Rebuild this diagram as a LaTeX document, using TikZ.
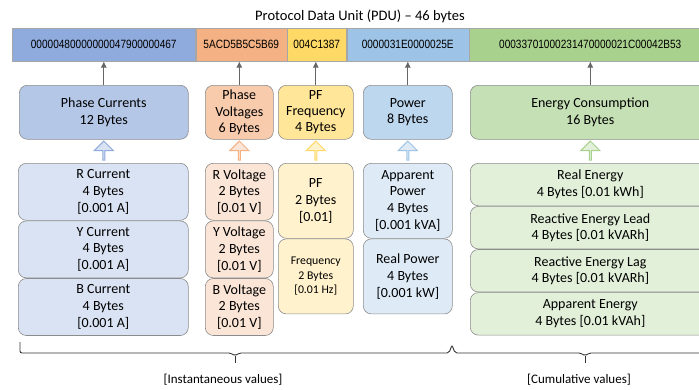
\documentclass[tikz,border=0pt]{standalone}
\usepackage{fontspec}
\setmainfont{Carlito}
\newfontfamily\narrowfont[FakeStretch=0.84]{Liberation Sans}
\usetikzlibrary{positioning,shapes.arrows,arrows.meta}
\definecolor{pcbar}{HTML}{8FAADC}
\definecolor{pchead}{HTML}{B4C7E7}
\definecolor{pcitem}{HTML}{DAE3F3}
\definecolor{pvbar}{HTML}{F4B183}
\definecolor{pvhead}{HTML}{F8CBAD}
\definecolor{pvitem}{HTML}{FBE5D6}
\definecolor{pfbar}{HTML}{FFD966}
\definecolor{pfhead}{HTML}{FFE699}
\definecolor{pfitem}{HTML}{FFF2CC}
\definecolor{pwbar}{HTML}{9DC3E6}
\definecolor{pwhead}{HTML}{BDD7EE}
\definecolor{pwitem}{HTML}{DEEBF7}
\definecolor{enbar}{HTML}{A9D18E}
\definecolor{enhead}{HTML}{C5E0B4}
\definecolor{enitem}{HTML}{E2F0D9}

\begin{document}
\begin{tikzpicture}[x=1pt,y=-1pt,>={Latex[length=6pt,width=6pt]},
    bar/.style={rectangle,draw=black!35,line width=0.5pt,inner sep=0pt,minimum height=33pt,
      font=\narrowfont\fontsize{12}{14}\selectfont},
    head box/.style={rectangle,rounded corners=8pt,draw=black!45,line width=0.6pt,inner sep=0pt,
      minimum height=54pt,align=center,font=\fontsize{14}{16.3}\selectfont},
    item box/.style={rectangle,rounded corners=8pt,draw=black!45,line width=0.6pt,inner sep=0pt,
      align=center,font=\fontsize{14}{16.7}\selectfont},
    up arrow/.style={single arrow,shape border rotate=90,inner sep=0pt,minimum width=19pt,
      minimum height=19pt,single arrow head extend=4.5pt,line width=1pt},
    link/.style={->,draw=black!60,line width=0.8pt},
    brace line/.style={draw=black!80,line width=0.9pt,rounded corners=2pt}]
  \useasboundingbox (0,0) rectangle (699,389);
  \clip (0,0) rectangle (699,389);

  % Title
  \node[font=\fontsize{14.5}{17}\selectfont] (title) at (360,16) {Protocol Data Unit (PDU) -- 46 bytes};

  % PDU bar
  \node[bar,fill=pcbar,minimum width=183pt,anchor=north west] (pc) at (12,28) {00000480000000047900000467};
  \node[bar,fill=pvbar,minimum width=91pt,right=0pt of pc] (pv) {5ACD5B5C5B69};
  \node[bar,fill=pfbar,minimum width=59pt,right=0pt of pv] (pf) {004C1387};
  \node[bar,fill=pwbar,minimum width=122pt,right=0pt of pf] (pw) {0000031E0000025E};
  \node[bar,fill=enbar,minimum width=242pt,right=0pt of pw] (en) {00033701000231470000021C00042B53};

  % Group boxes
  \node[head box,fill=pchead,minimum width=169pt,anchor=north west] (hpc) at (19,85) {Phase Currents\\12 Bytes};
  \node[head box,fill=pvhead,minimum width=68pt,anchor=north west] (hpv) at (205,85) {Phase\\Voltages\\6 Bytes};
  \node[head box,fill=pfhead,minimum width=75pt,anchor=north west] (hpf) at (278,85) {PF\\Frequency\\4 Bytes};
  \node[head box,fill=pwhead,minimum width=89pt,anchor=north west] (hpw) at (363,85) {Power\\8 Bytes};
  \node[head box,fill=enhead,minimum width=240pt,anchor=north west] (hen) at (470,85) {Energy Consumption\\16 Bytes};

  % Edges
  \draw[link] (hpc.north) -- (hpc.north |- pc.south);
  \draw[link] (hpv.north) -- (hpv.north |- pv.south);
  \draw[link] (hpf.north) -- (hpf.north |- pf.south);
  \draw[link] (hpw.north) -- (hpw.north |- pw.south);
  \draw[link] (hen.north) -- (hen.north |- en.south);

  % Block arrows
  \node[up arrow,draw=pcbar,fill=pcitem] (upc) at (hpc.south |- 0,151) {};
  \node[up arrow,draw=pvbar,fill=pvitem] (upv) at (hpv.south |- 0,151) {};
  \node[up arrow,draw=pfbar,fill=pfitem] (upf) at (hpf.south |- 0,151) {};
  \node[up arrow,draw=pwbar,fill=pwitem] (upw) at (hpw.south |- 0,151) {};
  \node[up arrow,draw=enbar,fill=enitem] (uen) at (hen.south |- 0,151) {};

  % Currents
  \node[item box,fill=pcitem,minimum width=170pt,minimum height=57pt,anchor=north west] (rc) at (18,163) {R Current\\4 Bytes\\{[0.001 A]}};
  \node[item box,fill=pcitem,minimum width=170pt,minimum height=57pt,below=0pt of rc] (yc) {Y Current\\4 Bytes\\{[0.001 A]}};
  \node[item box,fill=pcitem,minimum width=170pt,minimum height=57pt,below=0pt of yc] (bc) {B Current\\4 Bytes\\{[0.001 A]}};

  % Voltages
  \node[item box,fill=pvitem,minimum width=68pt,minimum height=57pt,anchor=north west] (rv) at (205,163) {R Voltage\\2 Bytes\\{[0.01 V]}};
  \node[item box,fill=pvitem,minimum width=68pt,minimum height=57pt,below=0pt of rv] (yv) {Y Voltage\\2 Bytes\\{[0.01 V]}};
  \node[item box,fill=pvitem,minimum width=68pt,minimum height=57pt,below=0pt of yv] (bv) {B Voltage\\2 Bytes\\{[0.01 V]}};

  % PF and frequency
  \node[item box,fill=pfitem,minimum width=75pt,minimum height=75pt,anchor=north west] (pfi) at (278,163) {PF\\2 Bytes\\{[0.01]}};
  \node[item box,fill=pfitem,minimum width=75pt,minimum height=75pt,below=0pt of pfi,
    font=\fontsize{11.8}{14.5}\selectfont] (fq) {Frequency\\2 Bytes\\{[0.01 Hz]}};

  % Power
  \node[item box,fill=pwitem,minimum width=89pt,minimum height=75pt,anchor=north west] (ap) at (363,163) {Apparent\\Power\\4 Bytes\\{[0.001 kVA]}};
  \node[item box,fill=pwitem,minimum width=89pt,minimum height=75pt,below=0pt of ap] (rp) {Real Power\\4 Bytes\\{[0.001 kW]}};

  % Energy
  \node[item box,fill=enitem,minimum width=240pt,minimum height=42.5pt,anchor=north west] (re) at (470,163) {Real Energy\\4 Bytes [0.01 kWh]};
  \node[item box,fill=enitem,minimum width=240pt,minimum height=42.5pt,below=0pt of re] (rel) {Reactive Energy Lead\\4 Bytes [0.01 kVARh]};
  \node[item box,fill=enitem,minimum width=240pt,minimum height=42.5pt,below=0pt of rel] (rlg) {Reactive Energy Lag\\4 Bytes [0.01 kVARh]};
  \node[item box,fill=enitem,minimum width=240pt,minimum height=42.5pt,below=0pt of rlg] (aen) {Apparent Energy\\4 Bytes [0.01 kVAh]};

  % Braces
  \draw[brace line] (20,342) -- (20,353) -- (231,353) -- (235,356) -- (239,353) -- (449,353) -- (452,345) -- (455,353) -- (581,353) -- (585,356) -- (589,353) -- (705,353);
  \draw[brace line] (235,356) -- (235,363);
  \draw[brace line] (585,356) -- (585,363);

  % Labels
  \node[font=\fontsize{13}{15}\selectfont] (inst) at (223,380) {[Instantaneous values]};
  \node[font=\fontsize{13}{15}\selectfont] (cumu) at (579,380) {[Cumulative values]};
\end{tikzpicture}
\end{document}
